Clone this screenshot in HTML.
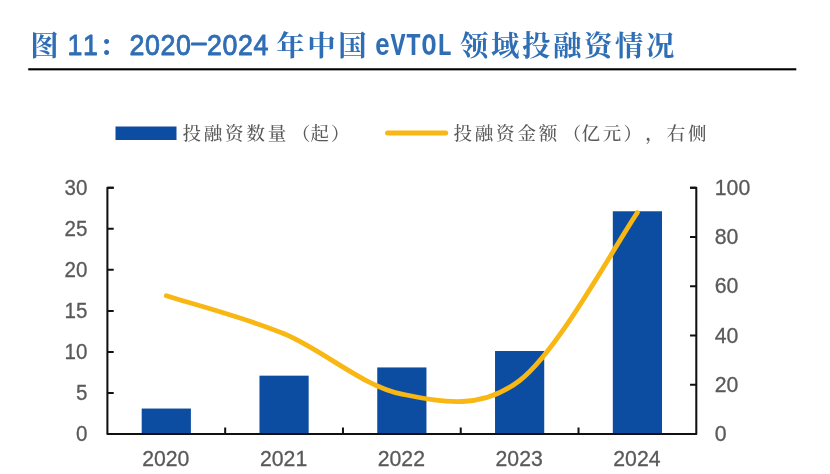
<!DOCTYPE html>
<html lang="zh-CN"><head><meta charset="utf-8"><title>图 11：2020-2024 年中国 eVTOL 领域投融资情况</title>
<style>
html,body{margin:0;padding:0;background:#fff;}
body{width:830px;height:474px;overflow:hidden;font-family:"Liberation Sans","Noto Sans CJK SC",sans-serif;}
svg{display:block;}
</style></head><body>
<svg width="830" height="474" viewBox="0 0 830 474">
<rect width="830" height="474" fill="#fff"/>
<text x="44.50" y="55.9" font-family='"Liberation Serif","Noto Serif CJK SC",serif' font-size="28.4" font-weight="700" fill="#2F6EB5" text-anchor="middle">图</text>
<text transform="translate(0,54.9) scale(0.9,1)" x="83.17 100.39" y="0" font-family='"Liberation Sans",sans-serif' font-size="29.8" font-weight="400" fill="#2F6EB5" stroke="#2F6EB5" stroke-width="0.9" stroke-linejoin="round" text-anchor="middle">11</text>
<text x="113.20" y="55.9" font-family='"Liberation Serif","Noto Serif CJK SC",serif' font-size="28.4" font-weight="700" fill="#2F6EB5" text-anchor="middle">：</text>
<text transform="translate(0,54.9) scale(0.9,1)" x="152.06 169.28 186.50 203.72 220.94 238.17 255.39 272.61 289.83" y="0" dy="0 0 0 0 -3.4 3.4 0 0 0" font-family='"Liberation Sans",sans-serif' font-size="29.8" font-weight="400" fill="#2F6EB5" stroke="#2F6EB5" stroke-width="0.9" stroke-linejoin="round" text-anchor="middle">2020–2024</text>
<text x="290.40 321.40 352.40" y="55.9" font-family='"Liberation Serif","Noto Serif CJK SC",serif' font-size="28.4" font-weight="700" fill="#2F6EB5" text-anchor="middle">年中国</text>
<text transform="translate(0,54.9) scale(0.8,1)" x="478.19 497.56 516.94 536.31 555.69" y="0" font-family='"Liberation Mono",monospace' font-size="31.2" font-weight="700" fill="#2F6EB5" text-anchor="middle">eVTOL</text>
<text x="474.30 505.30 536.30 567.30 598.30 629.30 660.30" y="55.9" font-family='"Liberation Serif","Noto Serif CJK SC",serif' font-size="28.4" font-weight="700" fill="#2F6EB5" text-anchor="middle">领域投融资情况</text>
<rect x="28.2" y="68.25" width="768.1" height="2.1" fill="#000"/>
<rect x="115.5" y="126.5" width="61" height="13.5" fill="#0C4DA2"/>
<line x1="387.5" y1="133" x2="445.7" y2="133" stroke="#F8B712" stroke-width="5" stroke-linecap="round"/>
<text x="191.66 213.00 234.32 255.66 276.99 300.92 319.64 340.38" y="140.1" font-family='"Liberation Serif","Noto Serif CJK SC",serif' font-size="18.5" font-weight="500" fill="#595959" text-anchor="middle">投融资数量（起）</text>
<text x="462.67 484.00 505.32 526.65 547.99 571.92 590.64 611.98 632.70 654.63 675.96 697.29" y="140.1" font-family='"Liberation Serif","Noto Serif CJK SC",serif' font-size="18.5" font-weight="500" fill="#595959" text-anchor="middle">投融资金额（亿元），右侧</text>
<rect x="141.69" y="408.54" width="49.2" height="26.46" fill="#0C4DA2"/>
<rect x="259.47" y="375.66" width="49.2" height="59.34" fill="#0C4DA2"/>
<rect x="377.25" y="367.44" width="49.2" height="67.56" fill="#0C4DA2"/>
<rect x="495.03" y="351.00" width="49.2" height="84.00" fill="#0C4DA2"/>
<rect x="612.81" y="211.26" width="49.2" height="223.74" fill="#0C4DA2"/>
<path d="M166.30,295.80 C185.93,302.13 244.83,317.42 284.10,333.80 C323.37,350.18 362.63,386.32 401.90,394.10 C441.17,401.88 480.45,410.75 519.70,380.50 C558.95,350.25 617.78,240.58 637.40,212.60" fill="none" stroke="#F8B712" stroke-width="4.8" stroke-linecap="round" stroke-linejoin="round"/>
<path d="M113.7,187.75 H107.4 V434.0 H696.3 V187.75 h-6.3" stroke="#111" stroke-width="2.05" fill="none" stroke-linejoin="round"/>
<path d="M107.4,187.75 h6.3 M107.4,228.79 h6.3 M107.4,269.83 h6.3 M107.4,310.88 h6.3 M107.4,351.92 h6.3 M107.4,392.96 h6.3 M107.4,434.00 h6.3 M696.3,187.75 h-6.3 M696.3,237.00 h-6.3 M696.3,286.25 h-6.3 M696.3,335.50 h-6.3 M696.3,384.75 h-6.3 M696.3,434.00 h-6.3 M225.18,434.0 v-6.5 M342.96,434.0 v-6.5 M460.74,434.0 v-6.5 M578.52,434.0 v-6.5 " stroke="#111" stroke-width="2.0" fill="none"/>
<text transform="translate(87.4,194.95) scale(0.935,1)" font-family='"Liberation Sans",sans-serif' font-size="22" fill="#595959" stroke="#595959" stroke-width="0.3" text-anchor="end">30</text>
<text transform="translate(87.4,235.99) scale(0.935,1)" font-family='"Liberation Sans",sans-serif' font-size="22" fill="#595959" stroke="#595959" stroke-width="0.3" text-anchor="end">25</text>
<text transform="translate(87.4,277.03) scale(0.935,1)" font-family='"Liberation Sans",sans-serif' font-size="22" fill="#595959" stroke="#595959" stroke-width="0.3" text-anchor="end">20</text>
<text transform="translate(87.4,318.07) scale(0.935,1)" font-family='"Liberation Sans",sans-serif' font-size="22" fill="#595959" stroke="#595959" stroke-width="0.3" text-anchor="end">15</text>
<text transform="translate(87.4,359.12) scale(0.935,1)" font-family='"Liberation Sans",sans-serif' font-size="22" fill="#595959" stroke="#595959" stroke-width="0.3" text-anchor="end">10</text>
<text transform="translate(87.4,400.16) scale(0.935,1)" font-family='"Liberation Sans",sans-serif' font-size="22" fill="#595959" stroke="#595959" stroke-width="0.3" text-anchor="end">5</text>
<text transform="translate(87.4,441.20) scale(0.935,1)" font-family='"Liberation Sans",sans-serif' font-size="22" fill="#595959" stroke="#595959" stroke-width="0.3" text-anchor="end">0</text>
<text transform="translate(714.8,194.95) scale(0.965,1)" font-family='"Liberation Sans",sans-serif' font-size="22" fill="#595959" stroke="#595959" stroke-width="0.3">100</text>
<text transform="translate(714.8,244.20) scale(0.965,1)" font-family='"Liberation Sans",sans-serif' font-size="22" fill="#595959" stroke="#595959" stroke-width="0.3">80</text>
<text transform="translate(714.8,293.45) scale(0.965,1)" font-family='"Liberation Sans",sans-serif' font-size="22" fill="#595959" stroke="#595959" stroke-width="0.3">60</text>
<text transform="translate(714.8,342.70) scale(0.965,1)" font-family='"Liberation Sans",sans-serif' font-size="22" fill="#595959" stroke="#595959" stroke-width="0.3">40</text>
<text transform="translate(714.8,391.95) scale(0.965,1)" font-family='"Liberation Sans",sans-serif' font-size="22" fill="#595959" stroke="#595959" stroke-width="0.3">20</text>
<text transform="translate(714.8,441.20) scale(0.965,1)" font-family='"Liberation Sans",sans-serif' font-size="22" fill="#595959" stroke="#595959" stroke-width="0.3">0</text>
<text transform="translate(165.79,466.2) scale(0.965,1)" font-family='"Liberation Sans",sans-serif' font-size="22" fill="#595959" stroke="#595959" stroke-width="0.3" text-anchor="middle">2020</text>
<text transform="translate(283.57,466.2) scale(0.965,1)" font-family='"Liberation Sans",sans-serif' font-size="22" fill="#595959" stroke="#595959" stroke-width="0.3" text-anchor="middle">2021</text>
<text transform="translate(401.35,466.2) scale(0.965,1)" font-family='"Liberation Sans",sans-serif' font-size="22" fill="#595959" stroke="#595959" stroke-width="0.3" text-anchor="middle">2022</text>
<text transform="translate(519.13,466.2) scale(0.965,1)" font-family='"Liberation Sans",sans-serif' font-size="22" fill="#595959" stroke="#595959" stroke-width="0.3" text-anchor="middle">2023</text>
<text transform="translate(636.91,466.2) scale(0.965,1)" font-family='"Liberation Sans",sans-serif' font-size="22" fill="#595959" stroke="#595959" stroke-width="0.3" text-anchor="middle">2024</text>
</svg>
</body></html>
